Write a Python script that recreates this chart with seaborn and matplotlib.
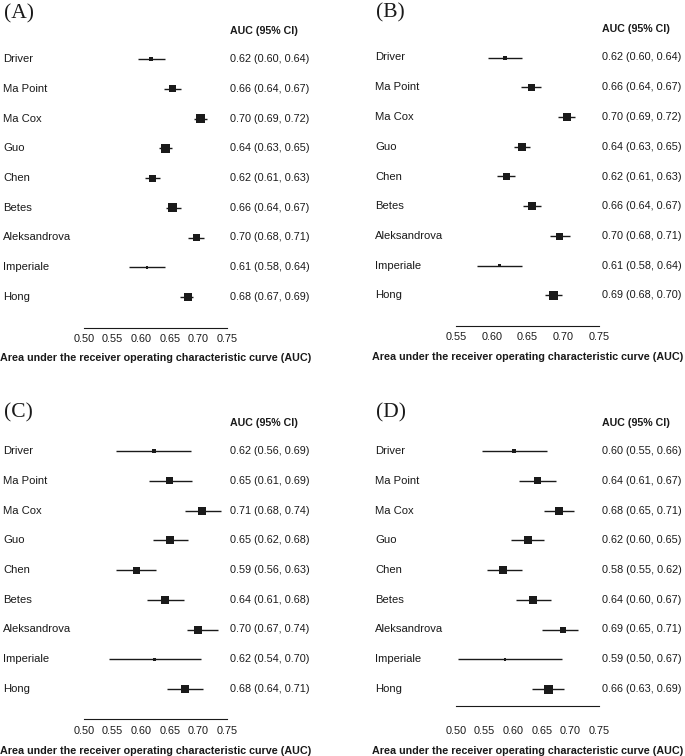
import numpy as np
import pandas as pd
import matplotlib
matplotlib.use('Agg')
import matplotlib.pyplot as plt
import matplotlib.transforms as mtransforms
import seaborn as sns

sns.set_style('white')
plt.rcParams['font.family'] = ['Liberation Sans', 'DejaVu Sans']

# Data #####################################################################
models = ['Driver', 'Ma Point', 'Ma Cox', 'Guo', 'Chen', 'Betes',
          'Aleksandrova', 'Imperiale', 'Hong']

# Panel A
auc_a = [0.617, 0.654, 0.703, 0.643, 0.619, 0.655, 0.696, 0.610, 0.681]
lo_a = [0.595, 0.640, 0.693, 0.631, 0.607, 0.643, 0.682, 0.579, 0.668]
hi_a = [0.641, 0.669, 0.715, 0.654, 0.633, 0.670, 0.709, 0.642, 0.691]
weight_a = [4, 7, 9, 9, 7, 9, 7, 2.5, 8]
text_a = ['0.62 (0.60, 0.64)', '0.66 (0.64, 0.67)', '0.70 (0.69, 0.72)',
          '0.64 (0.63, 0.65)', '0.62 (0.61, 0.63)', '0.66 (0.64, 0.67)',
          '0.70 (0.68, 0.71)', '0.61 (0.58, 0.64)', '0.68 (0.67, 0.69)']
ticks_a = [0.50, 0.55, 0.60, 0.65, 0.70, 0.75]

# Panel B
auc_b = [0.618, 0.655, 0.705, 0.642, 0.620, 0.656, 0.695, 0.611, 0.686]
lo_b = [0.595, 0.641, 0.693, 0.631, 0.608, 0.644, 0.681, 0.579, 0.674]
hi_b = [0.642, 0.669, 0.716, 0.654, 0.633, 0.669, 0.709, 0.642, 0.698]
weight_b = [4, 7, 8, 8, 7, 8, 7, 2.5, 9]
text_b = ['0.62 (0.60, 0.64)', '0.66 (0.64, 0.67)', '0.70 (0.69, 0.72)',
          '0.64 (0.63, 0.65)', '0.62 (0.61, 0.63)', '0.66 (0.64, 0.67)',
          '0.70 (0.68, 0.71)', '0.61 (0.58, 0.64)', '0.69 (0.68, 0.70)']
ticks_b = [0.55, 0.60, 0.65, 0.70, 0.75]

# Panel C
auc_c = [0.622, 0.650, 0.707, 0.650, 0.592, 0.641, 0.700, 0.623, 0.677]
lo_c = [0.556, 0.613, 0.677, 0.621, 0.556, 0.610, 0.680, 0.543, 0.645]
hi_c = [0.687, 0.689, 0.740, 0.681, 0.626, 0.674, 0.734, 0.704, 0.708]
weight_c = [4, 7, 8, 8, 7, 8, 8, 2.5, 8]
text_c = ['0.62 (0.56, 0.69)', '0.65 (0.61, 0.69)', '0.71 (0.68, 0.74)',
          '0.65 (0.62, 0.68)', '0.59 (0.56, 0.63)', '0.64 (0.61, 0.68)',
          '0.70 (0.67, 0.74)', '0.62 (0.54, 0.70)', '0.68 (0.64, 0.71)']
ticks_c = [0.50, 0.55, 0.60, 0.65, 0.70, 0.75]

# Panel D
auc_d = [0.601, 0.643, 0.680, 0.625, 0.583, 0.635, 0.687, 0.586, 0.661]
lo_d = [0.546, 0.611, 0.653, 0.597, 0.554, 0.605, 0.650, 0.504, 0.633]
hi_d = [0.659, 0.674, 0.707, 0.653, 0.615, 0.666, 0.713, 0.686, 0.689]
weight_d = [4, 7, 8, 8, 8, 8, 6, 2.5, 9]
text_d = ['0.60 (0.55, 0.66)', '0.64 (0.61, 0.67)', '0.68 (0.65, 0.71)',
          '0.62 (0.60, 0.65)', '0.58 (0.55, 0.62)', '0.64 (0.60, 0.67)',
          '0.69 (0.65, 0.71)', '0.59 (0.50, 0.67)', '0.66 (0.63, 0.69)']
ticks_d = [0.50, 0.55, 0.60, 0.65, 0.70, 0.75]

# Layout (pixels in a 685 x 756 figure) ######################################
W, H = 685, 756
ROW_STEP = 29.75
INK = '#1a1a1a'

panels = [
    dict(tag='(A)', auc=auc_a, lo=lo_a, hi=hi_a, w=weight_a, txt=text_a, ticks=ticks_a,
         x0=84, x1=227, row0=59, axis_y=328, lab_x=3, ci_x=230, tag_x=4, tag_y=14,
         tick_y=340, title_y=358),
    dict(tag='(B)', auc=auc_b, lo=lo_b, hi=hi_b, w=weight_b, txt=text_b, ticks=ticks_b,
         x0=456, x1=599, row0=57.5, axis_y=326, lab_x=375, ci_x=602, tag_x=376, tag_y=13,
         tick_y=338.3, title_y=356.7),
    dict(tag='(C)', auc=auc_c, lo=lo_c, hi=hi_c, w=weight_c, txt=text_c, ticks=ticks_c,
         x0=84, x1=227, row0=451, axis_y=719, lab_x=3, ci_x=230, tag_x=4, tag_y=413,
         tick_y=731.7, title_y=751),
    dict(tag='(D)', auc=auc_d, lo=lo_d, hi=hi_d, w=weight_d, txt=text_d, ticks=ticks_d,
         x0=456, x1=599, row0=451, axis_y=705.7, lab_x=375, ci_x=602, tag_x=376, tag_y=413,
         tick_y=731.7, title_y=750.7),
]

fig = plt.figure(figsize=(W / 100, H / 100), dpi=100)

# Draw each forest plot ####################################################
def forest(p):
    top = p['row0'] - 1.5 * ROW_STEP
    bottom_row = (p['axis_y'] - p['row0']) / ROW_STEP
    ax = fig.add_axes([p['x0'] / W, 1 - p['axis_y'] / H,
                       (p['x1'] - p['x0']) / W, (p['axis_y'] - top) / H])
    df = pd.DataFrame({'model': models, 'auc': p['auc'], 'lo': p['lo'],
                       'hi': p['hi'], 'w': p['w']})
    df['row'] = np.arange(len(df))
    # confidence intervals
    ax.hlines(df['row'], df['lo'], df['hi'], color=INK, lw=1.0, zorder=1)
    # squares scaled by weight
    sns.scatterplot(data=df, x='auc', y='row', marker='s', color=INK,
                    s=(df['w'] * 0.72) ** 2, linewidth=0, ax=ax, zorder=2,
                    legend=False)
    ax.set_xlim(p['ticks'][0], p['ticks'][-1])
    ax.set_ylim(bottom_row, -1.5)
    ax.set_xlabel('')
    ax.set_ylabel('')
    ax.set_yticks([])
    ax.set_xticks(p['ticks'])
    ax.set_xticklabels(['%.2f' % t for t in p['ticks']])
    for s in ['top', 'right', 'left']:
        ax.spines[s].set_visible(False)
    ax.spines['bottom'].set_linewidth(0.8)
    ax.spines['bottom'].set_color(INK)
    pad_px = p['tick_y'] - 6 - p['axis_y'] - 2
    ax.tick_params(axis='x', direction='out', length=1.5, width=0.8, color=INK,
                   pad=pad_px * 0.72, labelsize=7.8, labelcolor=INK)
    ax.patch.set_alpha(0)

    tr = mtransforms.blended_transform_factory(fig.transFigure, ax.transData)
    for i, (name, t) in enumerate(zip(models, p['txt'])):
        ax.text(p['lab_x'] / W, i, name, transform=tr, va='center', ha='left',
                fontsize=8.1, color=INK, clip_on=False)
        ax.text(p['ci_x'] / W, i, t, transform=tr, va='center', ha='left',
                fontsize=7.8, color=INK, clip_on=False)
    ax.text(p['ci_x'] / W, -0.95, 'AUC (95% CI)', transform=tr, va='center',
            ha='left', fontsize=7.7, fontweight='bold', color=INK, clip_on=False)

    fig.text(p['tag_x'] / W, 1 - p['tag_y'] / H, p['tag'], va='center', ha='left',
             fontsize=15.5, family=['Liberation Serif', 'DejaVu Serif'], color=INK)
    fig.text((p['x0'] + p['x1']) / 2 / W, 1 - p['title_y'] / H,
             'Area under the receiver operating characteristic curve (AUC)',
             va='center', ha='center', fontsize=7.75, fontweight='bold', color=INK)
    return ax

for p in panels:
    forest(p)

fig.savefig('out.png', dpi=100, facecolor='white')
